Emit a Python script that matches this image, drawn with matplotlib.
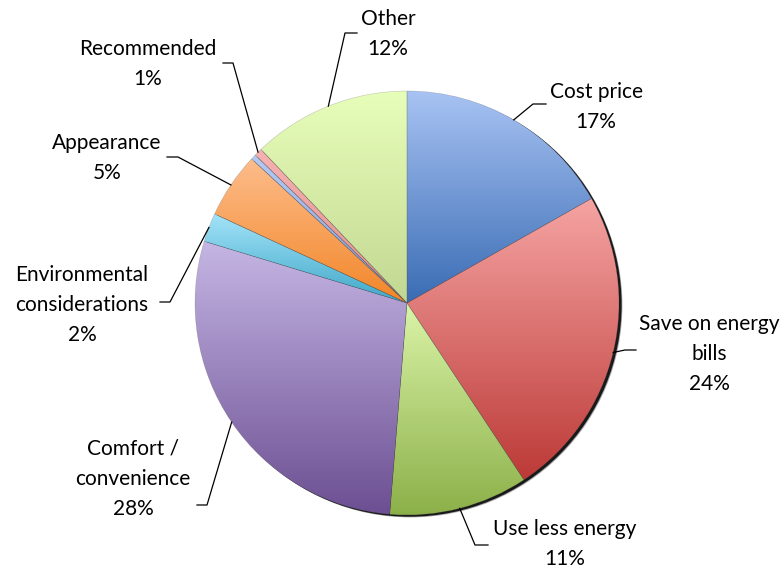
import numpy as np
import matplotlib.pyplot as plt
from matplotlib.colors import to_rgb

W, H = 781, 570

categories = ["Cost price", "Save on energy\nbills", "Use less energy", "Comfort /\nconvenience",
              "Environmental\nconsiderations", "Appearance", "", "Recommended", "Other"]
values = [16.8, 23.9, 10.6, 28.4, 2.2, 5.0, 0.4, 0.6, 12.1]

# gradient colours per slice: top, bottom
tops = ["#a8c3f3", "#f5a4a3", "#daf4a8", "#c5b6e4", "#a4e4f9", "#fdbd8c", "#b4cbf4", "#f6b2b1", "#e7feba"]
bottoms = ["#3a6cb4", "#bc3a37", "#8cb049", "#6c4f92", "#3fa7c8", "#f28628", "#7c9edb", "#e08c8b", "#c2d792"]

# label block centres and leader elbow / end points (pixels from top-left)
label_xy = [(596, 107), (709, 354), (565, 544), (133, 479), (82, 305), (107, 158), None, (148, 64), (388, 34)]
leader_pts = [[(533, 104), (546, 104)], [(625, 350), (636, 350)], [(475, 545), (488, 545)],
              [(207, 505), (197, 505)], [(170, 302), (160, 302)], [(178, 157), (167, 157)], None,
              [(233, 63), (223, 63)], [(345, 33), (357, 33)]]

cx, cy, R = 407, H - 303, 212

fig = plt.figure(figsize=(W / 100, H / 100), dpi=100)
ax = fig.add_axes([0, 0, 1, 1])

# soft drop shadow on the lower right
for off, a in [((3.4, -2.4), 0.35), ((2.6, -1.7), 0.85)]:
    ax.add_patch(plt.Circle((cx + off[0], cy + off[1]), R, color="black", alpha=a, lw=0, zorder=0))

wedges, _ = ax.pie(values, center=(cx, cy), radius=R, startangle=90, counterclock=False,
                   wedgeprops=dict(linewidth=0.4, edgecolor=(0.3, 0.3, 0.3, 0.3)))

for w, t, b in zip(wedges, tops, bottoms):
    w.set_facecolor("none")
    w.set_zorder(3)
    th = np.radians(np.linspace(w.theta1, w.theta2, 200))
    xs = np.concatenate([[cx], cx + R * np.cos(th)])
    ys = np.concatenate([[cy], cy + R * np.sin(th)])
    n = 256
    f = np.linspace(0, 1, n)[:, None]
    grad = (1 - f) * np.array(to_rgb(t)) + f * np.array(to_rgb(b))
    im = ax.imshow(grad[:, None, :], extent=[xs.min(), xs.max(), ys.min(), ys.max()],
                   origin="upper", aspect="auto", interpolation="bilinear", zorder=2)
    im.set_clip_path(w)

total = sum(values)
font = ["Lato", "DejaVu Sans"]
for w, cat, v, lxy, pts in zip(wedges, categories, values, label_xy, leader_pts):
    if lxy is None:
        continue
    mid = np.radians((w.theta1 + w.theta2) / 2)
    sx, sy = cx + R * np.cos(mid), cy + R * np.sin(mid)
    px = [sx] + [p[0] for p in pts]
    py = [sy] + [H - p[1] for p in pts]
    ax.plot(px, py, color="black", lw=0.9, zorder=4)
    pct = round(v / total * 100)
    ax.text(lxy[0], H - lxy[1], f"{cat}\n{pct}%", ha="center", va="center", multialignment="center",
            fontsize=15, family=font, linespacing=1.65, color="black", zorder=5)

ax.set_xlim(0, W)
ax.set_ylim(0, H)
ax.set_aspect("equal")
ax.axis("off")
fig.savefig("out.png", dpi=100)
